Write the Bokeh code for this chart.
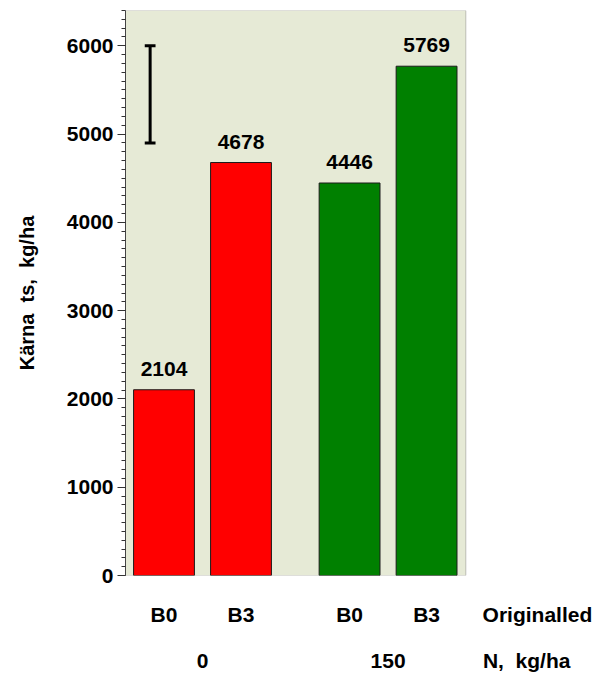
from bokeh.plotting import figure
from bokeh.models import (ColumnDataSource, FixedTicker, LinearAxis, BoxAnnotation,
                          Range1d)
from bokeh.core.properties import value
from bokeh.embed import file_html
from bokeh.resources import INLINE

# ---- data ----
cultivars = ["B0", "B3", "B0", "B3"]
n_rates = ["0", "0", "150", "150"]
yields = [2104, 4678, 4446, 5769]
bar_colors = ["#ff0000", "#ff0000", "#008000", "#008000"]
bar_x = [1.0, 2.0, 3.41, 4.41]
group_x = [1.5, 3.91]
group_labels = ["0", "150"]
y_ticks = [0, 1000, 2000, 3000, 4000, 5000, 6000]
err_x = 0.82
err_low = 4900
err_high = 6000
row1_title = "Originalled"
row2_title = "N,\u00a0 kg/ha"
row1_title_x = 5.85
row2_title_x = 5.71
y_label = "Kärna\u00a0 ts,\u00a0 kg/ha"

FONT = "Liberation Sans"
FS = "21px"

x_max = 0.5 + (595 - 125) / 77.0

p = figure(width=595, height=674, x_range=Range1d(0.5, x_max), y_range=Range1d(0, 6400),
           output_backend="svg", toolbar_location=None,
           min_border_left=125, min_border_right=0, min_border_top=10, min_border_bottom=10)
p.outline_line_color = None
p.background_fill_color = "white"
p.grid.visible = False

bg = BoxAnnotation(left=0.5, right=4.92, bottom=0, top=6400,
                   fill_color="#e6ead6", fill_alpha=1.0,
                   line_color="#444444", line_width=1, level="underlay")
p.add_layout(bg)

src = ColumnDataSource(dict(x=bar_x, y=yields, color=bar_colors,
                            label=[str(v) for v in yields]))
p.vbar(x="x", top="y", bottom=0, width=0.79, fill_color="color",
       line_color="#1a1a1a", line_width=1, source=src)
p.text(x="x", y="y", text="label", source=src, text_align="center",
       text_baseline="bottom", y_offset=-14, text_font=value(FONT),
       text_font_style="bold", text_font_size=FS, text_color="black")

# error bar
p.segment(x0=[err_x], y0=[err_low], x1=[err_x], y1=[err_high],
          line_color="black", line_width=3)
cap = 0.07
p.segment(x0=[err_x - cap, err_x - cap], y0=[err_low, err_high],
          x1=[err_x + cap, err_x + cap], y1=[err_low, err_high],
          line_color="black", line_width=3)

# y axis
ya = p.yaxis[0]
ya.ticker = FixedTicker(ticks=y_ticks,
                        minor_ticks=list(range(0, 6401, 100)))
ya.axis_label = y_label
ya.axis_label_text_font = FONT
ya.axis_label_text_font_style = "bold"
ya.axis_label_text_font_size = "20px"
ya.axis_label_text_color = "black"
ya.axis_label_standoff = 26
ya.major_label_text_font = FONT
ya.major_label_text_font_style = "bold"
ya.major_label_text_font_size = FS
ya.major_label_text_color = "black"
ya.major_tick_out = 8
ya.major_tick_in = 0
ya.minor_tick_out = 4
ya.minor_tick_in = 0
ya.major_label_standoff = 4
ya.axis_line_color = "#444444"
ya.major_tick_line_color = "#333333"
ya.minor_tick_line_color = "#333333"

# x axis row 1
xa = p.xaxis[0]
xa.ticker = FixedTicker(ticks=bar_x + [row1_title_x])
ov = {bar_x[i]: cultivars[i] for i in range(4)}
ov[row1_title_x] = row1_title
xa.major_label_overrides = ov
xa.axis_line_color = None
xa.major_tick_line_color = None
xa.minor_tick_line_color = None
xa.major_label_standoff = 21
xa.major_label_text_font = FONT
xa.major_label_text_font_style = "bold"
xa.major_label_text_font_size = FS
xa.major_label_text_color = "black"

# x axis row 2
xa2 = LinearAxis(ticker=FixedTicker(ticks=group_x + [row2_title_x]))
ov2 = {group_x[i]: group_labels[i] for i in range(2)}
ov2[row2_title_x] = row2_title
xa2.major_label_overrides = ov2
xa2.axis_line_color = None
xa2.major_tick_line_color = None
xa2.minor_tick_line_color = None
xa2.major_label_standoff = 14
xa2.major_label_text_font = FONT
xa2.major_label_text_font_style = "bold"
xa2.major_label_text_font_size = FS
xa2.major_label_text_color = "black"
p.add_layout(xa2, "below")

open("out.html", "w").write(file_html(p, INLINE))
